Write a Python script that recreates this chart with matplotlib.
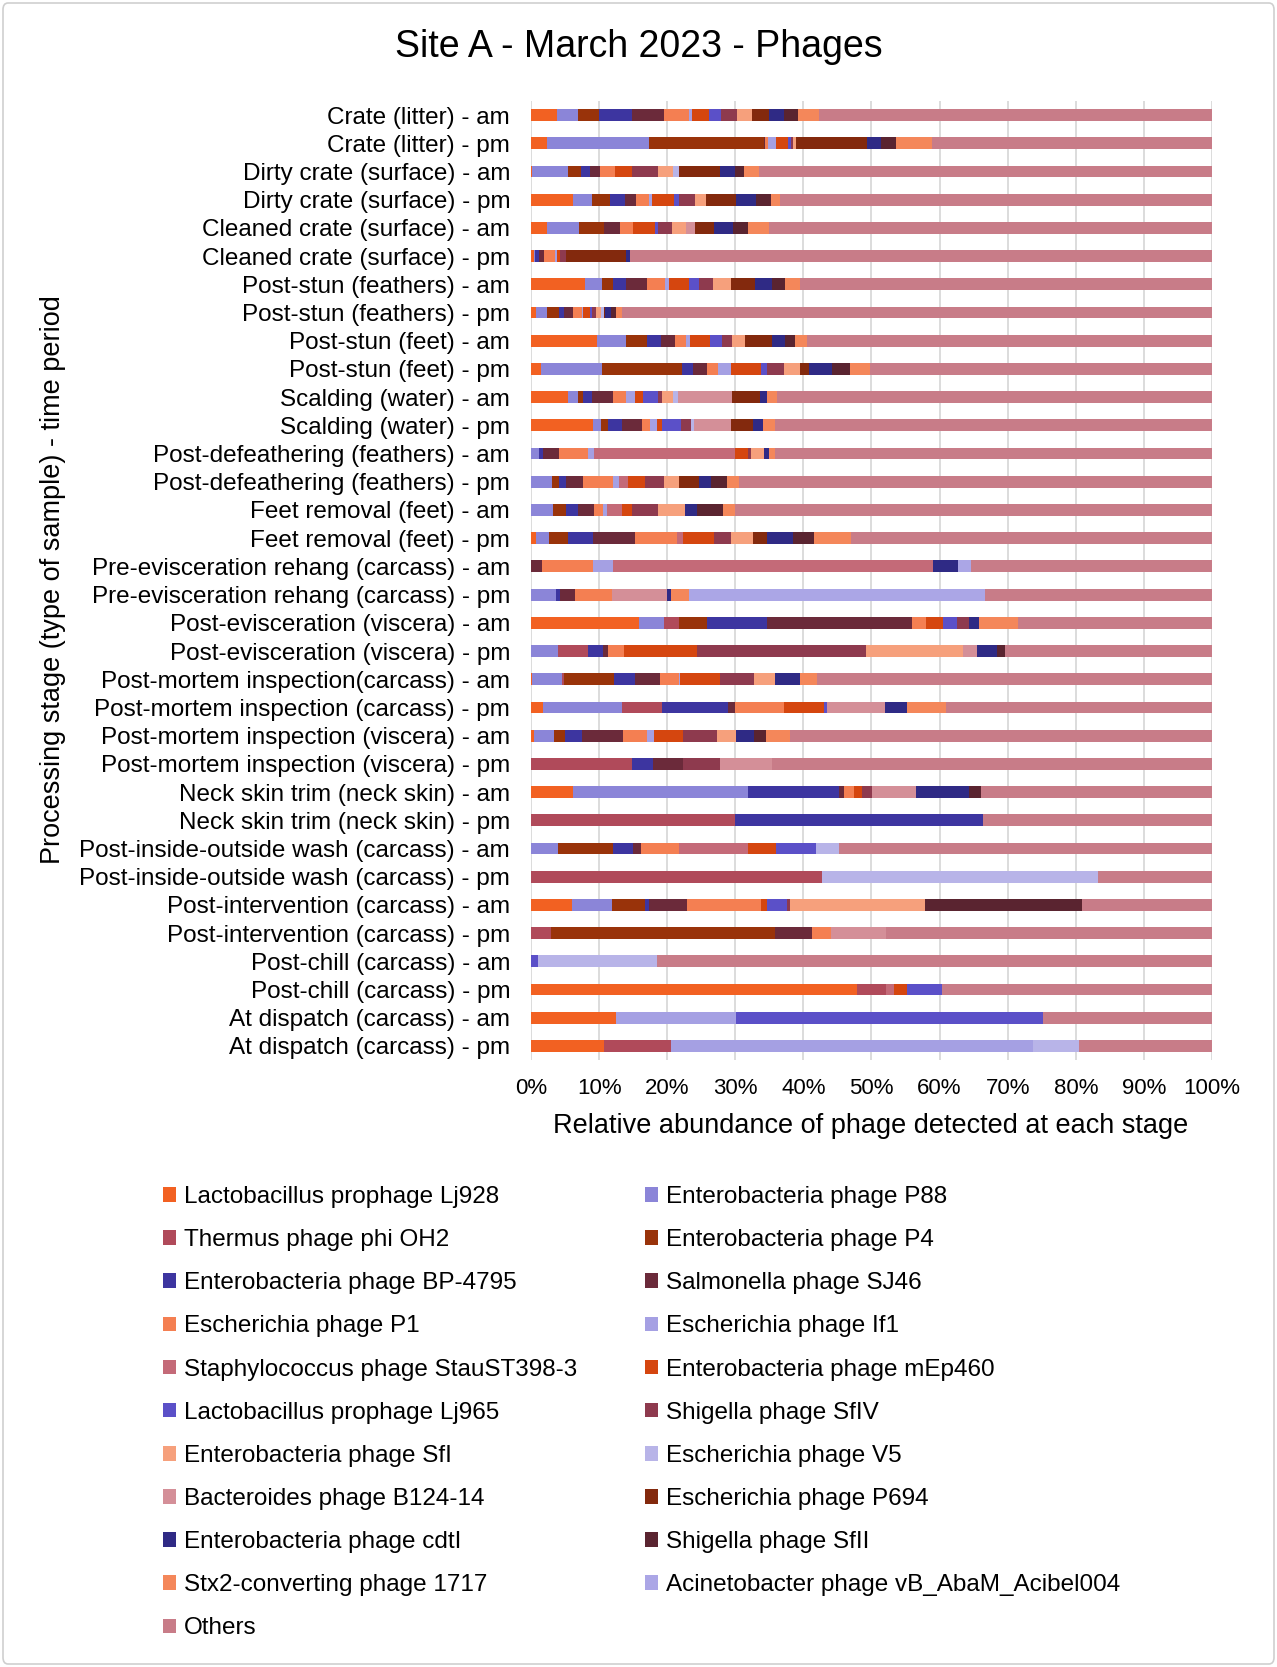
import numpy as np
import matplotlib
matplotlib.use('Agg')
import matplotlib.pyplot as plt
from matplotlib.patches import FancyBboxPatch

plt.rcParams['font.family'] = ['Liberation Sans', 'DejaVu Sans']

stages = ['Crate (litter) - am', 'Crate (litter) - pm',
          'Dirty crate (surface) - am', 'Dirty crate (surface) - pm',
          'Cleaned crate (surface) - am', 'Cleaned crate (surface) - pm',
          'Post-stun (feathers) - am', 'Post-stun (feathers) - pm',
          'Post-stun (feet) - am', 'Post-stun (feet) - pm',
          'Scalding (water) - am', 'Scalding (water) - pm',
          'Post-defeathering (feathers) - am', 'Post-defeathering (feathers) - pm',
          'Feet removal (feet) - am', 'Feet removal (feet) - pm',
          'Pre-evisceration rehang (carcass) - am', 'Pre-evisceration rehang (carcass) - pm',
          'Post-evisceration (viscera) - am', 'Post-evisceration (viscera) - pm',
          'Post-mortem inspection(carcass) - am', 'Post-mortem inspection (carcass) - pm',
          'Post-mortem inspection (viscera) - am', 'Post-mortem inspection (viscera) - pm',
          'Neck skin trim (neck skin) - am', 'Neck skin trim (neck skin) - pm',
          'Post-inside-outside wash (carcass) - am', 'Post-inside-outside wash (carcass) - pm',
          'Post-intervention (carcass) - am', 'Post-intervention (carcass) - pm',
          'Post-chill (carcass) - am', 'Post-chill (carcass) - pm',
          'At dispatch (carcass) - am', 'At dispatch (carcass) - pm']

# relative abundance (%) per stage, one list per phage (stacking order)
lj928 = [3.8, 2.3, 0.2, 6.1, 2.3, 0.4, 7.9, 0.7, 9.7, 1.5, 5.4, 9.1, 0, 0, 0, 0.8, 0, 0,
         15.9, 0, 0.2, 1.7, 0.4, 0, 6.2, 0, 0, 0, 6.0, 0, 0, 47.9, 12.5, 10.7]
p88 = [3.1, 15.0, 5.3, 2.9, 4.7, 0.2, 2.5, 1.6, 4.3, 8.9, 1.5, 1.2, 1.2, 3.1, 3.2, 1.8, 0, 3.6,
       3.7, 3.9, 4.4, 11.7, 3.0, 0, 25.6, 0, 4.0, 0, 5.9, 0, 0, 0, 0, 0]
oh2 = [0, 0, 0, 0, 0, 0, 0, 0, 0, 0, 0, 0, 0, 0, 0, 0, 0, 0,
       2.1, 4.5, 0.3, 5.9, 0, 14.9, 0, 30.0, 0, 42.7, 0, 3.0, 0, 4.3, 0, 9.8]
p4 = [3.1, 16.9, 1.8, 2.6, 3.7, 0, 1.6, 1.8, 3.0, 11.7, 0.8, 1.0, 0, 1.0, 1.9, 2.8, 0, 0,
      4.1, 0, 7.3, 0, 1.6, 0, 0, 0, 8.1, 0, 4.9, 32.9, 0, 0, 0, 0]
bp4795 = [4.9, 0, 1.4, 2.2, 0, 0.6, 1.9, 0.7, 2.1, 1.7, 1.2, 2.0, 0.5, 1.1, 1.8, 3.7, 0, 0.7,
          8.9, 2.1, 3.0, 9.7, 2.5, 3.0, 13.4, 36.4, 2.9, 0, 0.5, 0, 0, 0, 0, 0]
sj46 = [4.7, 0.2, 1.5, 1.6, 2.3, 0.7, 3.1, 1.3, 2.0, 2.1, 3.2, 3.0, 2.4, 2.4, 2.4, 6.2, 1.6, 2.2,
        21.3, 0.8, 3.7, 0.9, 6.0, 4.4, 0.7, 0, 1.1, 0, 5.6, 5.4, 0, 0, 0, 0]
p1 = [3.6, 0.4, 2.2, 1.9, 2.0, 1.6, 2.7, 1.4, 1.6, 1.6, 1.8, 1.2, 4.3, 4.5, 1.2, 6.1, 7.5, 5.4,
      2.0, 2.4, 2.8, 7.3, 3.5, 0, 1.5, 0, 5.7, 0, 10.9, 2.8, 0, 0, 0, 0]
if1 = [0.4, 1.2, 0, 0.5, 0, 0.3, 0.5, 0.2, 0.6, 1.9, 1.3, 1.0, 0.9, 0.8, 0.6, 0, 3.0, 0,
       0, 0, 0.2, 0, 1.0, 0, 0, 0, 0, 0, 0, 0, 0, 0, 17.6, 53.2]
stau = [0, 0, 0, 0, 0, 0, 0, 0, 0, 0, 0, 0, 20.6, 1.4, 2.3, 0.9, 46.9, 0,
        0, 0, 0, 0, 0, 0, 0, 0, 10.0, 0, 0, 0, 0, 1.1, 0, 0]
mep460 = [2.6, 1.8, 2.5, 3.2, 3.2, 0.4, 3.0, 0.9, 3.0, 4.4, 1.3, 0.8, 1.9, 2.5, 1.4, 4.5, 0, 0,
          2.5, 10.7, 5.8, 5.8, 4.3, 0, 1.2, 0, 4.2, 0, 0.9, 0, 0, 1.9, 0, 0]
lj965 = [1.7, 0.4, 0, 0.7, 0.4, 0, 1.4, 0.4, 1.7, 0.8, 2.1, 2.7, 0, 0, 0, 0, 0, 0,
         2.0, 0, 0, 0.5, 0, 0, 0, 0, 5.8, 0, 2.9, 0, 1.0, 5.2, 45.1, 0]
sfiv = [2.4, 0.3, 3.7, 2.4, 2.1, 0.9, 2.1, 0.5, 1.5, 2.5, 0.6, 1.5, 0.5, 2.7, 3.8, 2.6, 0, 0,
        1.8, 24.8, 5.1, 0, 5.0, 5.4, 1.5, 0, 0, 0, 0.5, 0, 0, 0, 0, 0]
sfi = [2.2, 0.4, 2.3, 1.6, 2.1, 0, 2.6, 0.8, 1.9, 2.4, 1.6, 0, 1.9, 2.3, 4.0, 3.2, 0, 0,
       0, 14.3, 3.0, 0, 2.8, 0, 0, 0, 0, 0, 19.8, 0, 0, 0, 0, 0]
v5 = [0, 0, 0.8, 0, 0, 0, 0, 0.4, 0, 0, 0.8, 0.5, 0, 0, 0, 0, 0, 0,
      0, 0, 0, 0, 0, 0, 0, 0, 3.4, 40.6, 0, 0, 17.5, 0, 0, 6.7]
b124 = [0, 0, 0, 0, 1.3, 0, 0, 0, 0, 0, 7.9, 5.3, 0, 0, 0, 0, 0, 8.1,
        0, 2.0, 0, 8.5, 0, 7.7, 6.5, 0, 0, 0, 0, 8.0, 0, 0, 0, 0]
p694 = [2.5, 10.5, 6.1, 4.4, 2.8, 8.8, 3.6, 0.2, 4.0, 1.3, 4.1, 3.3, 0, 2.8, 0, 2.1, 0, 0,
        0, 0, 0, 0, 0, 0, 0, 0, 0, 0, 0, 0, 0, 0, 0, 0]
cdti = [2.1, 2.0, 2.1, 3.0, 2.7, 0.6, 2.5, 0.9, 1.9, 3.4, 1.0, 1.5, 0.8, 1.8, 1.8, 3.8, 3.7, 0.6,
        1.5, 3.0, 3.7, 3.2, 2.6, 0, 7.7, 0, 0, 0, 0, 0, 0, 0, 0, 0]
sfii = [2.1, 2.2, 1.4, 2.2, 2.2, 0, 1.9, 0.7, 1.4, 2.6, 0, 0, 0, 2.4, 3.8, 3.0, 0, 0,
        0, 1.1, 0, 0, 1.8, 0, 1.8, 0, 0, 0, 23.0, 0, 0, 0, 0, 0]
stx2 = [3.1, 5.3, 2.2, 1.3, 3.1, 0, 2.2, 0.9, 1.8, 3.0, 1.5, 1.7, 0.8, 1.7, 1.8, 5.5, 0, 2.6,
        5.7, 0, 2.5, 5.8, 3.6, 0, 0, 0, 0, 0, 0, 0, 0, 0, 0, 0]
acibel = [0, 0, 0, 0, 0, 0, 0, 0, 0, 0, 0, 0, 0, 0, 0, 0, 1.9, 43.4,
          0, 0, 0, 0, 0, 0, 0, 0, 0, 0, 0, 0, 0, 0, 0, 0]
others = [57.7, 41.1, 66.5, 63.4, 65.1, 85.5, 60.5, 86.6, 59.5, 50.2, 63.9, 64.2, 64.2, 69.5,
          70.0, 53.0, 35.4, 33.4, 28.5, 30.4, 58.0, 39.0, 61.9, 64.6, 33.9, 33.6, 54.8, 16.7,
          19.1, 47.9, 81.5, 39.6, 24.8, 19.6]

names = ['Lactobacillus prophage Lj928', 'Enterobacteria phage P88', 'Thermus phage phi OH2',
         'Enterobacteria phage P4', 'Enterobacteria phage BP-4795', 'Salmonella phage SJ46',
         'Escherichia phage P1', 'Escherichia phage If1', 'Staphylococcus phage StauST398-3',
         'Enterobacteria phage mEp460', 'Lactobacillus prophage Lj965', 'Shigella phage SfIV',
         'Enterobacteria phage SfI', 'Escherichia phage V5', 'Bacteroides phage B124-14',
         'Escherichia phage P694', 'Enterobacteria phage cdtI', 'Shigella phage SfII',
         'Stx2-converting phage 1717', 'Acinetobacter phage vB_AbaM_Acibel004', 'Others']
series = [lj928, p88, oh2, p4, bp4795, sj46, p1, if1, stau, mep460, lj965, sfiv, sfi, v5,
          b124, p694, cdti, sfii, stx2, acibel, others]
colors = ['#F26122', '#8B85D8', '#B04A5A', '#99330A', '#3D35A0', '#6B2A3A', '#F47F52',
          '#A5A0E3', '#C46A78', '#D5460F', '#5B50C8', '#8E3A4E', '#F6A07C', '#B8B4E8',
          '#D48F98', '#83290D', '#2F2A85', '#5A2430', '#F4875A', '#ABA6E6', '#C87C88']

W, H = 1277, 1667
fig = plt.figure(figsize=(W / 100, H / 100), dpi=100)
ax = fig.add_axes([531 / W, 1 - 1060 / H, 681 / W, 959 / H])

y = np.arange(len(stages))
left = np.zeros(len(stages))
handles = []
for vals, name, col in zip(series, names, colors):
    vals = np.array(vals)
    b = ax.barh(y, vals, left=left, height=0.42, color=col, label=name, zorder=3)
    handles.append(b)
    left += vals

ax.set_xlim(0, 100)
ax.set_ylim(len(stages) - 0.5, -0.5)
ax.set_xticks(np.arange(0, 101, 10))
ax.set_xticklabels([f'{v}%' for v in range(0, 101, 10)])
ax.set_yticks(y)
ax.set_yticklabels(stages)
ax.tick_params(axis='both', length=0)
ax.tick_params(axis='y', pad=15, labelsize=17.5)
ax.tick_params(axis='x', pad=13, labelsize=16)
ax.grid(axis='x', color='#D9D9D9', linewidth=1.3, zorder=0)
for s in ax.spines.values():
    s.set_visible(False)

fig.text(0.5, 1 - 47 / H, 'Site A - March 2023 - Phages', ha='center', va='center', fontsize=27)
fig.text(871 / W, 1 - 1126 / H, 'Relative abundance of phage detected at each stage',
         ha='center', va='center', fontsize=19.5)
fig.text(53 / W, 1 - 580 / H, 'Processing stage (type of sample) - time period',
         ha='center', va='center', rotation=90, fontsize=19.5)

# legend in two columns, filled row by row
leg_kw = dict(loc='upper left', frameon=False, fontsize=17.5, handlelength=0.55,
              handleheight=0.55, handletextpad=0.3, labelspacing=0.87,
              borderpad=0, borderaxespad=0)
l1 = fig.legend(handles[0::2], names[0::2], bbox_to_anchor=(163 / W, 1 - 1186 / H), **leg_kw)
l2 = fig.legend(handles[1::2], names[1::2], bbox_to_anchor=(645 / W, 1 - 1186 / H), **leg_kw)

fig.patches.append(FancyBboxPatch((3 / W, 3 / H), 1 - 6 / W, 1 - 6 / H,
                                  boxstyle='round,pad=0,rounding_size=0.004',
                                  transform=fig.transFigure, fill=False,
                                  edgecolor='#CFCFCF', linewidth=1.2))

fig.savefig('out.png', dpi=100)
